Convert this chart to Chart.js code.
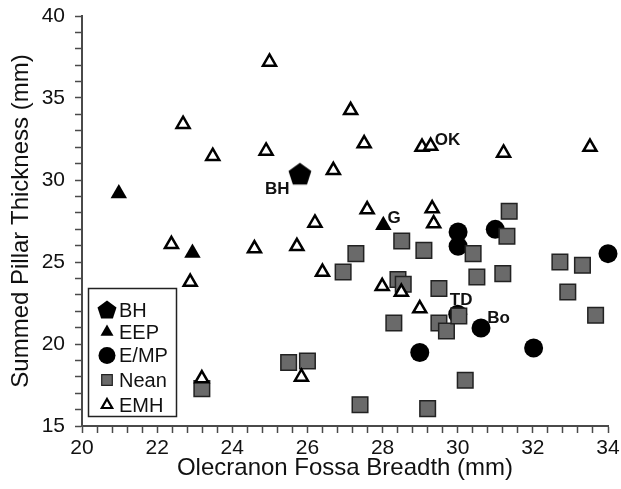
<!DOCTYPE html>
<html>
<head>
<meta charset="utf-8">
<script src="https://cdn.jsdelivr.net/npm/chart.js@4.4.0/dist/chart.umd.min.js"></script>
<style>
  html, body { margin: 0; padding: 0; background: #fff; }
  #wrap { width: 621px; height: 489px; }
</style>
</head>
<body>
<div id="wrap"><canvas id="fossachart" width="621" height="489"></canvas></div>
<script>
// values (x = fossa breadth, y = pillar thickness)
var bhX = [25.80];
var bhY = [30.35];

var eepX = [20.98, 22.94, 28.02];
var eepY = [29.17, 25.55, 27.24];

var empX = [30.01, 30.01, 31.00, 34.00, 30.00, 30.62, 28.99, 32.02];
var empY = [26.83, 25.96, 26.99, 25.51, 21.81, 20.98, 19.48, 19.76];

var neanX = [23.19, 25.50, 26.00, 26.95, 27.29, 27.40, 28.51, 28.41, 28.55, 28.30, 29.10, 29.50, 29.50,
             29.70, 30.03, 29.20, 30.20, 30.41, 30.51, 31.20, 31.31, 31.37, 32.72, 32.93, 33.32, 33.67];
var neanY = [17.28, 18.87, 18.96, 24.39, 25.51, 16.30, 26.28, 23.93, 23.64, 21.28, 25.71, 23.38, 21.28,
             20.79, 21.71, 16.06, 17.79, 25.51, 24.09, 24.29, 26.57, 28.09, 25.00, 23.17, 24.80, 21.75];

var emhX = [24.99, 22.69, 23.48, 24.90, 26.69, 27.15, 27.51, 29.05, 29.28, 31.22, 33.52, 27.59, 29.32,
            29.36, 22.38, 24.59, 25.72, 26.20, 22.88, 26.40, 25.84, 23.19, 27.99, 28.50, 28.99];
var emhY = [37.20, 33.40, 31.45, 31.77, 30.59, 34.25, 32.22, 32.01, 32.07, 31.65, 32.01, 28.20, 28.26,
            27.34, 26.08, 25.82, 25.96, 27.38, 23.78, 24.39, 17.99, 17.89, 23.52, 23.17, 22.16];

// specimen labels
var noteText = ['BH', 'OK', 'G', 'TD', 'Bo'];
var noteX = [25.20, 29.73, 28.31, 30.09, 31.09];
var noteY = [29.48, 32.46, 27.73, 22.73, 21.63];

var xMin = 20, xMax = 34, yMin = 15, yMax = 40;

var FONT = '"Liberation Sans", Arial, Helvetica, sans-serif';
var AXIS = '#4a4a4a';

function toXY(xs, ys) {
    var out = [];
    for (var i = 0; i < xs.length; i++) out.push({x: xs[i], y: ys[i]});
    return out;
}

function makePentagon(r) {
    var c = document.createElement('canvas');
    var s = Math.ceil(r * 2 + 2);
    c.width = s; c.height = s;
    var g = c.getContext('2d');
    g.beginPath();
    for (var k = 0; k < 5; k++) {
        var a = -Math.PI / 2 + k * 2 * Math.PI / 5;
        var px = s / 2 + r * Math.cos(a), py = s / 2 + 0.5 + r * Math.sin(a);
        if (k == 0) g.moveTo(px, py); else g.lineTo(px, py);
    }
    g.closePath();
    g.fillStyle = '#000';
    g.fill();
    return c;
}
var pentaBig = makePentagon(12);
var pentaSmall = makePentagon(10);

// legend box drawn inside the plot, like the original
var boxLegend = {
    id: 'boxLegend',
    afterDatasetsDraw: function(chart) {
        var ctx = chart.ctx;
        var left = 88.5, top = 288.5, w = 88, h = 128;
        ctx.save();
        ctx.fillStyle = '#fff';
        ctx.fillRect(left, top, w, h);
        ctx.strokeStyle = '#222';
        ctx.lineWidth = 1.5;
        ctx.strokeRect(left, top, w, h);
        var rows = [
            {t: 'BH', opt: {pointStyle: pentaSmall, radius: 10, rotation: 0, borderWidth: 0}, fill: '#000', stroke: '#000'},
            {t: 'EEP', opt: {pointStyle: 'triangle', radius: 7.5, rotation: 0, borderWidth: 0}, fill: '#000', stroke: '#000'},
            {t: 'E/MP', opt: {pointStyle: 'circle', radius: 8.5, rotation: 0, borderWidth: 0}, fill: '#000', stroke: '#000'},
            {t: 'Nean', opt: {pointStyle: 'rect', radius: 7.5, rotation: 0, borderWidth: 1.2}, fill: '#6a6a6a', stroke: '#222'},
            {t: 'EMH', opt: {pointStyle: 'triangle', radius: 6, rotation: 0, borderWidth: 2.2}, fill: '#fff', stroke: '#000'}
        ];
        var ys = [310, 332, 355.5, 380, 405];
        ctx.font = '20px ' + FONT;
        ctx.textBaseline = 'middle';
        ctx.textAlign = 'left';
        for (var i = 0; i < rows.length; i++) {
            ctx.fillStyle = rows[i].fill;
            ctx.strokeStyle = rows[i].stroke;
            ctx.lineWidth = rows[i].opt.borderWidth || 1;
            Chart.helpers.drawPoint(ctx, rows[i].opt, 107, ys[i]);
            ctx.fillStyle = '#111';
            ctx.fillText(rows[i].t, 119, ys[i] + 1);
        }
        ctx.restore();
    }
};

var specimenNotes = {
    id: 'specimenNotes',
    afterDatasetsDraw: function(chart) {
        var ctx = chart.ctx;
        var xs = chart.scales.x, ys = chart.scales.y;
        ctx.save();
        ctx.font = 'bold 17px ' + FONT;
        ctx.fillStyle = '#111';
        ctx.textAlign = 'center';
        ctx.textBaseline = 'middle';
        for (var i = 0; i < noteText.length; i++) {
            ctx.fillText(noteText[i], xs.getPixelForValue(noteX[i]), ys.getPixelForValue(noteY[i]) + 1);
        }
        ctx.restore();
    }
};

var fossachartcanvas = document.getElementById('fossachart').getContext('2d');

var fossaChart = new Chart(fossachartcanvas, {
    type: 'scatter',
    data: {
        datasets: [
            {
                label: 'BH',
                data: toXY(bhX, bhY),
                pointStyle: pentaBig,
                pointRadius: 12,
                backgroundColor: '#000',
                borderColor: '#000',
                clip: false,
                order: 4
            },
            {
                label: 'EEP',
                data: toXY(eepX, eepY),
                pointStyle: 'triangle',
                pointRadius: 9.5,
                borderWidth: 0,
                backgroundColor: '#000',
                borderColor: '#000',
                clip: false,
                order: 3
            },
            {
                label: 'E/MP',
                data: toXY(empX, empY),
                pointStyle: 'circle',
                pointRadius: 9.5,
                borderWidth: 0,
                backgroundColor: '#000',
                borderColor: '#000',
                clip: false,
                order: 2
            },
            {
                label: 'Nean',
                data: toXY(neanX, neanY),
                pointStyle: 'rect',
                pointRadius: 11,
                borderWidth: 1.5,
                backgroundColor: '#6a6a6a',
                borderColor: '#222',
                clip: false,
                order: 1
            },
            {
                label: 'EMH',
                data: toXY(emhX, emhY),
                pointStyle: 'triangle',
                pointRadius: 7.5,
                borderWidth: 2.5,
                backgroundColor: '#fff',
                borderColor: '#000',
                clip: false,
                order: 0
            }
        ]
    },
    options: {
        responsive: false,
        animation: false,
        layout: { padding: { top: 16, right: 5, left: 0, bottom: 0 } },
        plugins: {
            legend: { display: false },
            tooltip: { enabled: false }
        },
        scales: {
            x: {
                type: 'linear',
                min: xMin,
                max: xMax,
                afterFit: function(scale) {
                    scale.height = 63;
                    scale.paddingLeft = 0;
                    scale.paddingRight = 0;
                },
                grid: { drawOnChartArea: false, drawTicks: true, tickLength: 7, tickColor: AXIS, tickWidth: 1.5 },
                border: { display: true, color: AXIS, width: 2 },
                ticks: {
                    stepSize: 0.4,
                    maxTicksLimit: 100,
                    autoSkip: false,
                    maxRotation: 0,
                    padding: 3,
                    color: '#111',
                    font: { family: FONT, size: 21 },
                    callback: function(v) {
                        var r = Math.round(v);
                        return (Math.abs(v - r) < 1e-6 && r % 2 === 0) ? String(r) : '';
                    }
                },
                title: {
                    display: true,
                    text: 'Olecranon Fossa Breadth (mm)',
                    color: '#111',
                    font: { family: FONT, size: 24 },
                    padding: { top: 11, bottom: 6 }
                }
            },
            y: {
                type: 'linear',
                min: yMin,
                max: yMax,
                afterFit: function(scale) {
                    scale.width = 82;
                    scale.paddingTop = 0;
                    scale.paddingBottom = 0;
                },
                grid: { drawOnChartArea: false, drawTicks: true, tickLength: 7, tickColor: AXIS, tickWidth: 1.5 },
                border: { display: true, color: AXIS, width: 2 },
                ticks: {
                    stepSize: 1,
                    maxTicksLimit: 100,
                    autoSkip: false,
                    padding: 10,
                    color: '#111',
                    font: { family: FONT, size: 21 },
                    callback: function(v) { return v % 5 === 0 ? String(v) : ''; }
                },
                title: {
                    display: true,
                    text: 'Summed Pillar Thickness (mm)',
                    color: '#111',
                    font: { family: FONT, size: 24 },
                    padding: { top: 7, bottom: 7 }
                }
            }
        }
    },
    plugins: [specimenNotes, boxLegend]
});
</script>
</body>
</html>
